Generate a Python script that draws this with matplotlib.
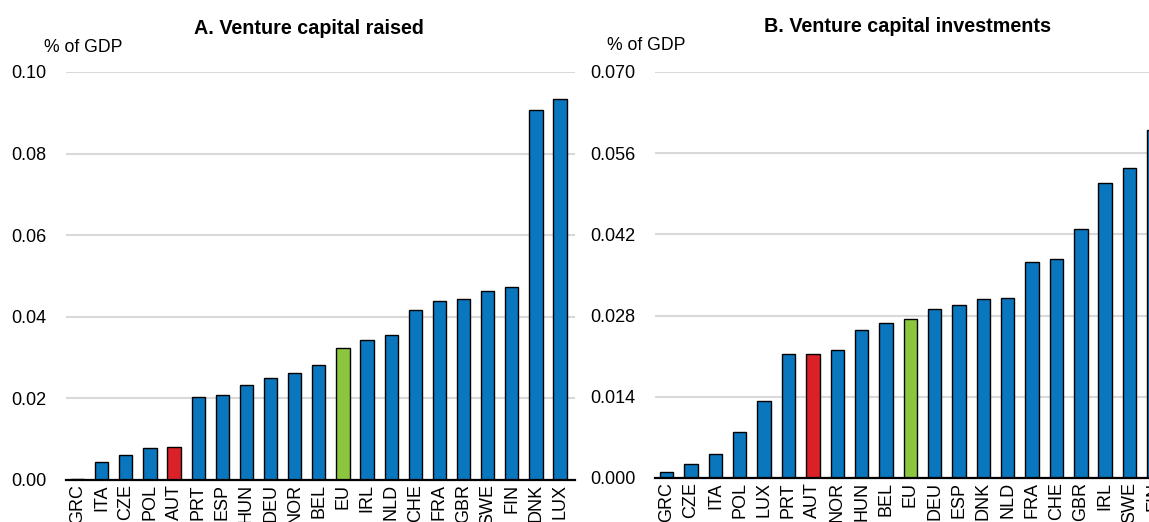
import matplotlib
matplotlib.use("Agg")
import matplotlib.pyplot as plt
from matplotlib import font_manager

# Panel A: venture capital raised, % of GDP
countries_a = ["GRC", "ITA", "CZE", "POL", "AUT", "PRT", "ESP", "HUN", "DEU", "NOR", "BEL",
               "EU", "IRL", "NLD", "CHE", "FRA", "GBR", "SWE", "FIN", "DNK", "LUX"]
values_a = [0.0002, 0.0044, 0.0061, 0.0078, 0.0080, 0.0203, 0.0209, 0.0234, 0.0250, 0.0262, 0.0283,
            0.0324, 0.0344, 0.0356, 0.0416, 0.0438, 0.0444, 0.0464, 0.0473, 0.0908, 0.0934]

# Panel B: venture capital investments, % of GDP
countries_b = ["GRC", "CZE", "ITA", "POL", "LUX", "PRT", "AUT", "NOR", "HUN", "BEL", "EU",
               "DEU", "ESP", "DNK", "NLD", "FRA", "CHE", "GBR", "IRL", "SWE", "FIN"]
values_b = [0.0010, 0.0024, 0.0041, 0.0079, 0.0133, 0.0213, 0.0213, 0.0221, 0.0255, 0.0267, 0.0274,
            0.0291, 0.0298, 0.0308, 0.0310, 0.0372, 0.0378, 0.0430, 0.0509, 0.0535, 0.0600]

ticks_a = [0.00, 0.02, 0.04, 0.06, 0.08, 0.10]
ticks_b = [0.000, 0.014, 0.028, 0.042, 0.056, 0.070]

BLUE = "#0A76BD"
RED = "#DA2128"
GREEN = "#8CC63F"

# pick a narrow Arial-like font if we have one
names = {f.name for f in font_manager.fontManager.ttflist}
if "Liberation Sans Narrow" in names:
    fam = "Liberation Sans Narrow"
    fs = 15
    fs_title = 16.5
    fs_unit = 15
else:
    fam = "Liberation Sans"
    fs = 13
    fs_title = 14.2
    fs_unit = 12.7
plt.rcParams["font.family"] = [fam, "DejaVu Sans"]


def bar_colours(cats):
    cols = []
    for c in cats:
        if c == "AUT":
            cols.append(RED)
        elif c == "EU":
            cols.append(GREEN)
        else:
            cols.append(BLUE)
    return cols


def draw_panel(ax, cats, vals, ticks, fmt):
    x = range(len(cats))
    ax.bar(x, vals, width=0.55, color=bar_colours(cats), edgecolor="black", linewidth=1.0, zorder=3)
    ax.set_xlim(-0.48, len(cats) - 0.38)
    ax.set_ylim(ticks[0], ticks[-1])
    ax.set_yticks(ticks)
    ax.set_yticklabels([fmt.format(t) for t in ticks], fontsize=fs)
    ax.set_xticks(list(x))
    ax.set_xticklabels(cats, rotation=90, fontsize=fs, va="top")
    ax.tick_params(axis="both", length=0)
    ax.tick_params(axis="y", pad=14)
    ax.tick_params(axis="x", pad=3)
    ax.grid(axis="y", color="#D9D9D9", linewidth=1.5, zorder=0)
    for s in ["top", "right", "left"]:
        ax.spines[s].set_visible(False)
    ax.spines["bottom"].set_linewidth(1.6)
    ax.spines["bottom"].set_zorder(4)


fig = plt.figure(figsize=(11.49, 5.22), dpi=100)
W, H = 1149.0, 522.0

ax1 = fig.add_axes([66 / W, 42 / H, (575 - 66) / W, (480 - 72) / H])
draw_panel(ax1, countries_a, values_a, ticks_a, "{:.2f}")

ax2 = fig.add_axes([655 / W, 44 / H, (1169 - 655) / W, (478 - 72) / H])
draw_panel(ax2, countries_b, values_b, ticks_b, "{:.3f}")

fig.text(309 / W, 1 - 29 / H, "A. Venture capital raised", ha="center", va="center",
         fontsize=fs_title, fontweight="bold")
fig.text(908 / W, 1 - 27 / H, "B. Venture capital investments", ha="center", va="center",
         fontsize=fs_title, fontweight="bold")
fig.text(44 / W, 1 - 47 / H, "% of GDP", ha="left", va="center", fontsize=fs_unit)
fig.text(607 / W, 1 - 45 / H, "% of GDP", ha="left", va="center", fontsize=fs_unit)

fig.savefig("out.png", dpi=100)
